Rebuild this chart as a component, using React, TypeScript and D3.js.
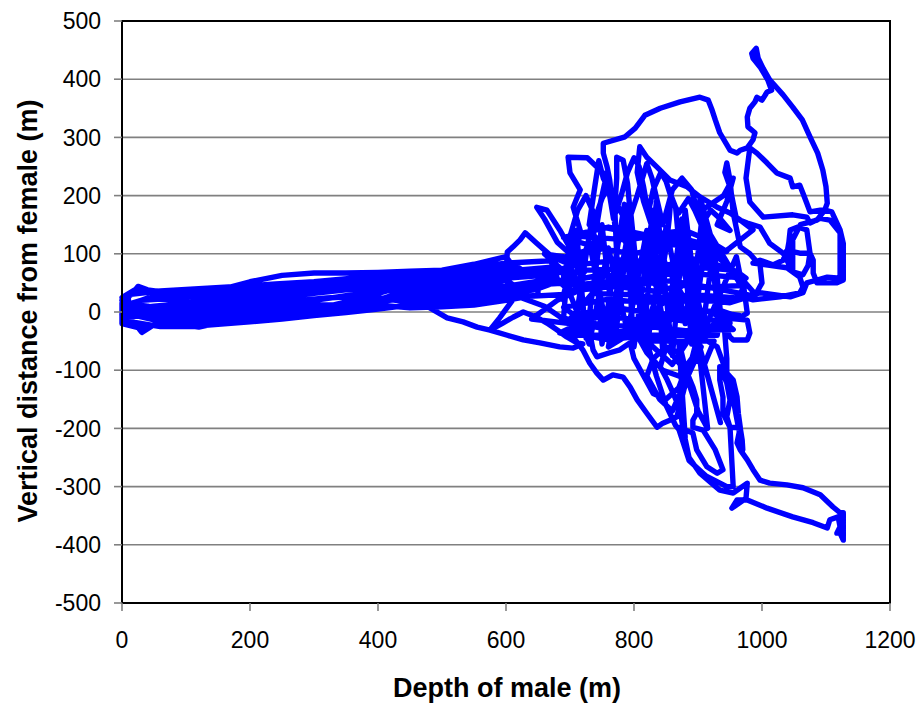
import {useMemo} from "react";
import * as d3 from "d3";

const WIDTH = 923;
const HEIGHT = 703;
const MARGIN = {top: 21, right: 33, bottom: 100, left: 122};

type Pt = [number, number]; // [depth of male, vertical distance from female]

const xTicks = [0, 200, 400, 600, 800, 1000, 1200];
const yTicks = [-500, -400, -300, -200, -100, 0, 100, 200, 300, 400, 500];

// repeated passes through the shallow band
const surfaceBand: Pt[] = [
    [0, 20], [15, 30], [25, 44], [40, 38], [80, 32], [120, 35], [160, 40], [200, 52], [250, 63], [300, 67], [350, 67], [400, 68], [450, 70], [500, 72], [550, 82], [600, 95],
    [610, 80], [550, 70], [500, 62], [450, 58], [400, 55], [350, 50], [300, 40], [250, 36], [200, 30], [150, 22], [100, 15], [50, 10], [10, 5],
    [0, -5], [20, -20], [31, -35], [50, -22], [100, -22], [150, -15], [200, -10], [250, 0], [300, 8], [350, 15], [400, 22], [450, 30], [500, 38], [550, 45], [600, 55],
    [620, 40], [560, 30], [500, 20], [450, 12], [400, 5], [350, -1], [300, -6], [250, -12], [200, -17], [150, -21], [106, -25], [60, -25], [20, -18], [0, -12],
    [0, 10], [30, 20], [100, 25], [150, 30], [200, 36], [250, 42], [300, 46], [350, 48], [400, 52], [450, 56], [500, 60], [550, 68], [620, 76],
    [640, 62], [580, 56], [520, 50], [450, 45], [400, 42], [350, 38], [300, 32], [250, 25], [200, 18], [150, 12], [100, 5], [50, 0], [0, 2],
    [0, 15], [40, 10], [100, -8], [150, -4], [200, 4], [250, 12], [300, 20], [350, 28], [400, 35], [450, 40], [500, 45], [560, 55], [650, 62],
    [650, 30], [600, 20], [550, 12], [500, 9], [450, 7], [400, 12], [350, 5], [300, 0], [250, -5], [200, -9], [150, -11], [100, -14], [40, -10], [5, 0],
    [0, 25], [20, 38], [60, 30], [100, 30], [150, 33], [200, 40], [250, 44], [300, 47], [350, 50], [400, 54], [450, 58], [500, 60], [550, 64], [600, 70], [680, 78],
    [700, 50], [620, 45], [560, 38], [500, 30], [450, 24], [400, 18], [350, 12], [300, 12], [250, 6], [200, 0], [150, -6], [100, -18], [60, -16], [20, -6], [0, -15],
    [0, 0], [30, 2], [80, 12], [150, 18], [200, 24], [260, 30], [320, 38], [380, 46], [440, 50], [500, 52], [560, 60], [620, 66], [700, 72],
    [690, 30], [620, 26], [560, 16], [500, 26], [440, 18], [380, 28], [320, 24], [260, 18], [200, 10], [140, 6], [90, 20], [40, 24], [0, 8],
    [0, -20], [30, -28], [70, -18], [120, -26], [170, -14], [230, -14], [290, -2], [350, 2], [420, 28], [480, 34], [540, 50], [600, 44], [680, 58],
    [670, 88], [600, 84], [540, 76], [480, 66], [420, 62], [360, 58], [300, 52], [240, 48], [180, 44], [120, 40], [60, 36], [10, 30],
    [10, -8], [80, -4], [130, 0], [190, -4], [240, 2], [300, 4], [360, 20], [420, 38], [470, 48], [530, 40], [590, 62], [660, 70],
];

const lowerBranch: Pt[] = [
    [640, 40], [560, 22], [500, 12], [481, 7], [508, -10], [533, -17], [555, -26], [575, -31], [602, -40], [627, -48], [653, -53], [684, -60], [705, -62],
    [720, -55], [711, -53], [695, -43], [680, -31], [664, -19], [648, -9], [627, 0], [611, -9], [595, -19], [575, -31], [590, -10], [610, 20], [600, 60],
    [602, 103], [611, 112], [622, 124], [630, 136], [648, 118], [673, 94], [695, 84], [720, 90],
    [660, 100], [700, 60], [650, 40], [610, 30], [660, 10], [700, -20], [640, -12], [680, 20], [720, 40], [690, 70], [660, 60],
];

const upperLeft: Pt[] = [
    [720, 90], [700, 110], [684, 141], [664, 175], [648, 180], [660, 160], [680, 120], [700, 100], [716, 140], [705, 180], [716, 210], [700, 239],
    [697, 266], [727, 265], [747, 244], [758, 232], [762, 220], [750, 195], [742, 170], [735, 140], [745, 110],
];

const coreTangle: Pt[] = [
    [690, 128], [760, 146], [820, 132], [880, 140], [915, 124],
    [945, 104], [860, 116], [800, 100], [740, 110], [695, 96],
    [705, 80], [780, 90], [840, 78], [900, 92], [960, 70],
    [975, 58], [870, 68], [810, 56], [750, 64], [685, 50],
    [700, 36], [770, 44], [830, 36], [890, 48], [985, 28],
    [950, 16], [875, 24], [815, 16], [760, 22], [690, 8],
    [705, -4], [780, 6], [840, -4], [900, 4], [965, -6],
    [920, -24], [860, -12], [800, -26], [745, -20], [700, -36],
    [760, -48], [820, -40], [870, -52], [915, -40],
    [880, 20], [850, 80], [830, 140], [815, 190], [805, 240], [809, 284], [820, 266], [836, 249], [856, 227], [883, 215], [903, 198], [930, 180],
    [950, 170], [966, 158], [986, 141],
    [950, 110], [910, 80], [870, 40], [830, 0], [790, -40], [760, -60],
    [770, 0], [775, 60], [772, 120], [770, 180], [773, 230], [773, 266], [783, 261], [790, 220], [795, 160], [800, 100], [810, 40], [820, -20],
    [840, 40], [850, 110], [855, 160], [858, 200], [865, 180], [870, 120], [880, 60], [895, 0], [905, -40],
    [890, 40], [900, 100], [905, 150], [903, 198], [910, 170], [920, 130], [930, 60], [935, 0], [930, -40],
];

const coreCross: Pt[] = [
    [705, -40], [735, 165], [750, -55], [785, 185], [800, -60], [830, 175], [845, -70], [875, 160], [890, -55], [915, 150], [935, -30],
    [925, 120], [905, -50], [880, 175], [860, -75], [835, 190], [815, -45], [795, 170], [770, -50], [750, 150], [725, -45], [710, 140],
    [690, 60], [730, -55], [760, 110], [790, -35], [820, 140], [850, -45], [880, 120], [910, -30], [960, 95],
    [970, 40], [910, 150], [880, -20], [850, 145], [820, -60], [790, 130], [760, -40], [730, 120], [690, 20],
    [715, 130], [790, 124], [850, 134], [905, 118],
    [955, 72], [880, 78], [830, 70], [780, 74], [725, 72],
    [705, 46], [760, 52], [810, 48], [860, 54], [910, 42], [975, 46],
    [960, 24], [890, 30], [840, 24], [790, 30], [735, 32],
    [700, -12], [760, -8], [810, -14], [860, -6], [940, -16],
    [955, -30], [880, -32], [830, -26], [780, -34], [730, -24], [690, -10],
];

const upperStrands: Pt[] = [
    [700, 130], [712, 175], [725, 200], [735, 175], [742, 150], [748, 190], [755, 225], [762, 200], [768, 160], [780, 200], [790, 240], [800, 265],
    [808, 250], [815, 215], [822, 170], [830, 210], [842, 240], [850, 225], [860, 190], [870, 170], [885, 195], [895, 175], [905, 150], [920, 175],
    [935, 160], [950, 140], [930, 150], [945, 190], [955, 230], [940, 200], [900, 170], [890, 210], [875, 230], [860, 210], [845, 150],
    [828, 230], [820, 255], [805, 200], [790, 150], [752, 230], [745, 260], [738, 210], [730, 150],
    [920, 110], [880, 0], [820, 60], [770, 150], [762, 227], [758, 249], [752, 273], [752, 290],
];

const northLoop: Pt[] = [
    [786, 301], [802, 316], [817, 338], [841, 350], [872, 361], [903, 369], [916, 364], [922, 347], [927, 330], [934, 308], [950, 278], [961, 273],
    [966, 278], [977, 282], [986, 296], [989, 308], [978, 318], [977, 335], [981, 350], [989, 361], [992, 369], [1000, 364], [1008, 378], [1015, 381],
    [1009, 399], [997, 421], [986, 436], [984, 444], [991, 453], [994, 436], [1002, 418], [1012, 399], [1033, 373], [1048, 352], [1063, 330],
    [1075, 301], [1087, 273], [1095, 244], [1100, 215], [1102, 187], [1098, 175], [1109, 172], [1122, 141], [1127, 118], [1127, 84], [1127, 55],
];

const eastLoops: Pt[] = [
    [1117, 50], [1086, 50], [1080, 67], [1080, 89], [1075, 101], [1072, 125], [1070, 141], [1056, 146], [1044, 141], [1042, 120], [1039, 101],
    [1044, 84], [1048, 69], [1064, 64], [1072, 80], [1075, 101], [1059, 101], [1039, 106], [1033, 89], [1017, 81], [997, 89], [986, 84],
    [1012, 80], [1039, 76], [1059, 60], [1064, 43], [1059, 33], [1028, 26], [986, 21], [970, 26], [997, 33], [1044, 26], [1064, 33], [1070, 50],
    [1086, 55], [1102, 60], [1122, 58], [1122, 136], [1106, 158], [1091, 161], [1075, 153], [1070, 163], [1048, 167], [1002, 163], [981, 189],
    [975, 230], [981, 282], [992, 273], [1008, 256], [1023, 239], [1044, 230], [1048, 215], [1059, 218], [1064, 204], [1070, 187], [1075, 172],
    [1091, 175], [1098, 175], [1086, 158], [1060, 150], [1048, 124], [1048, 69], [1039, 89], [1033, 101], [1012, 118], [997, 146], [977, 153], [960, 160],
    [955, 187], [950, 215], [942, 240], [945, 256], [950, 227], [955, 170], [966, 112], [981, 100], [997, 80], [1000, 50], [990, 30], [970, 55], [977, -2],
    [966, -9], [934, 3], [923, -2], [950, -19], [945, -31], [950, -43], [955, -48], [977, -48], [981, -36], [977, -14], [940, -10],
];

const southTrail: Pt[] = [
    [945, -80], [945, -105], [955, -117], [961, -146], [963, -174], [966, -198], [961, -225], [966, -237], [977, -254], [986, -271], [997, -289],
    [1012, -294], [1039, -297], [1064, -302], [1091, -314], [1111, -335], [1122, -345], [1127, -345], [1127, -392], [1122, -380], [1117, -380],
    [1122, -369], [1119, -352], [1106, -357], [1102, -371], [1080, -362], [1048, -352], [1008, -337], [977, -323], [961, -323], [953, -337],
    [975, -320], [977, -294], [955, -311], [934, -306], [903, -277], [886, -250], [877, -203], [872, -168], [861, -139], [852, -117], [841, -94], [850, -60],
    [883, -105], [892, -129], [898, -151], [898, -174], [892, -186], [892, -198], [908, -203], [927, -237], [939, -271], [930, -277], [914, -266],
    [898, -237], [892, -208], [869, -198], [886, -255], [913, -282], [945, -300], [955, -300], [950, -198], [939, -174], [939, -146], [934, -117],
    [934, -94], [945, -122], [950, -151], [945, -180], [950, -198], [966, -199], [969, -220], [970, -237], [960, -180], [950, -120], [930, -60], [900, -40],
    [867, -180], [856, -186], [845, -191], [836, -198], [820, -174], [805, -151], [794, -129], [783, -112], [767, -108], [752, -117], [742, -105],
    [731, -88], [720, -65], [705, -43], [684, -36], [711, -22], [731, -36], [736, -65], [742, -77], [762, -70], [778, -65], [794, -53],
    [800, -80], [815, -110], [830, -140], [850, -150], [870, -130], [880, -100], [870, -70], [850, -60], [830, -80], [820, -110], [840, -150], [860, -170],
    [880, -120], [905, -60], [890, -40], [860, -90], [830, -60], [800, -30], [820, -70], [845, -100], [870, -110], [890, -80], [910, -90], [925, -50],
    [820, -50], [835, -110], [850, -160], [865, -195], [880, -215], [870, -50], [885, -120], [900, -170], [915, -200],
    [900, -50], [915, -110], [925, -150], [935, -190],
];

const track: Pt[] = [
    ...surfaceBand, ...lowerBranch, ...upperLeft, ...coreTangle, ...coreCross,
    ...upperStrands, ...northLoop, ...eastLoops, ...southTrail,
];

export default function App() {
    const boundsWidth = WIDTH - MARGIN.left - MARGIN.right;
    const boundsHeight = HEIGHT - MARGIN.top - MARGIN.bottom;

    const xScale = useMemo(() => d3.scaleLinear().domain([0, 1200]).range([0, boundsWidth]), [boundsWidth]);
    const yScale = useMemo(() => d3.scaleLinear().domain([-500, 500]).range([boundsHeight, 0]), [boundsHeight]);

    const linePath = d3.line<Pt>()
        .x((d) => xScale(d[0]))
        .y((d) => yScale(d[1]))(track) ?? "";

    const font = "'Liberation Sans', Arial, sans-serif";

    return (
        <svg width={WIDTH} height={HEIGHT} style={{position: "absolute", left: 0, top: 0}}>
            <rect width={WIDTH} height={HEIGHT} fill="white"/>
            <g transform={`translate(${[MARGIN.left, MARGIN.top].join(",")})`}>
                {yTicks.map((t) => (
                    <line key={"g" + t} x1={0} x2={boundsWidth} y1={yScale(t)} y2={yScale(t)} stroke="#808080" strokeWidth={1.6}/>
                ))}

                <path d={linePath} fill="none" stroke="#0000FF" strokeWidth={5.4} strokeLinejoin="round" strokeLinecap="round"/>

                <rect x={0} y={0} width={boundsWidth} height={boundsHeight} fill="none" stroke="black" strokeWidth={2}/>

                {yTicks.map((t) => (
                    <g key={"y" + t} transform={`translate(0,${yScale(t)})`}>
                        <line x1={-8} x2={0} stroke="#808080" strokeWidth={1.6}/>
                        <text x={-21} dy="0.36em" textAnchor="end" fontSize={23} fontFamily={font}>{t}</text>
                    </g>
                ))}
                {xTicks.map((t) => (
                    <g key={"x" + t} transform={`translate(${xScale(t)},${boundsHeight})`}>
                        <line y1={0} y2={8} stroke="#808080" strokeWidth={1.6}/>
                        <text y={45} textAnchor="middle" fontSize={23} fontFamily={font}>{t}</text>
                    </g>
                ))}
            </g>

            <text x={507} y={697} textAnchor="middle" fontSize={27} fontWeight="bold" fontFamily={font}>
                Depth of male (m)
            </text>
            <text transform="translate(37,311) rotate(-90)" textAnchor="middle" fontSize={27} fontWeight="bold" fontFamily={font}>
                Vertical distance from female (m)
            </text>
        </svg>
    );
}
